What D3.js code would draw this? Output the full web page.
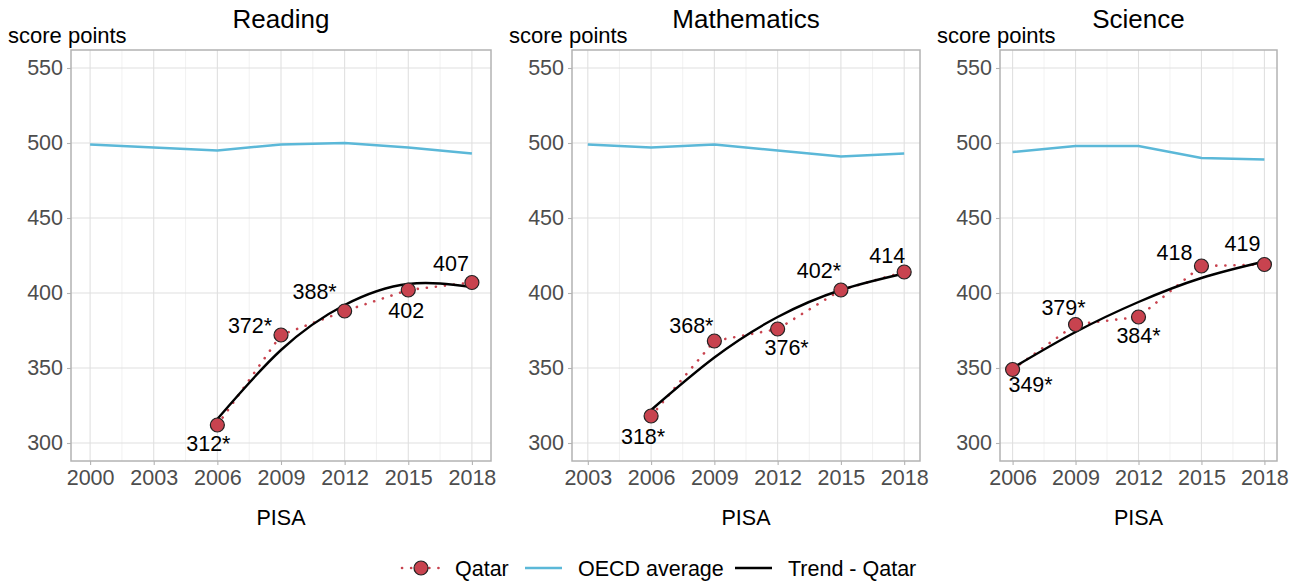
<!DOCTYPE html>
<html>
<head>
<meta charset="utf-8">
<script src="https://cdn.jsdelivr.net/npm/d3@7"></script>
<style>
  body { margin: 0; background: #fff; }
  text { font-family: Arial, "Liberation Sans", sans-serif; }
</style>
</head>
<body>
<script>
// PISA years per subject
var readingYears = [2000, 2003, 2006, 2009, 2012, 2015, 2018];
var mathYears = [2003, 2006, 2009, 2012, 2015, 2018];
var scienceYears = [2006, 2009, 2012, 2015, 2018];
var qatarYears = [2006, 2009, 2012, 2015, 2018];

// OECD average
var readingOecd = [499, 497, 495, 499, 500, 497, 493];
var mathOecd = [499, 497, 499, 495, 491, 493];
var scienceOecd = [494, 498, 498, 490, 489];

// Qatar scores and labels
var readingQatar = [312, 372, 388, 402, 407];
var mathQatar = [318, 368, 376, 402, 414];
var scienceQatar = [349, 379, 384, 418, 419];
var readingLabels = ['312*', '372*', '388*', '402', '407'];
var mathLabels = ['318*', '368*', '376*', '402*', '414'];
var scienceLabels = ['349*', '379*', '384*', '418', '419'];

// Trend - Qatar (at each PISA year)
var readingTrend = [316, 362, 392, 406, 404];
var mathTrend = [322, 357, 384, 402, 413];
var scienceTrend = [350, 374, 394, 410, 421];

var yTicks = [300, 350, 400, 450, 500, 550];

var panels = [
  { title: 'Reading', years: readingYears, oecd: readingOecd, qatar: readingQatar, labels: readingLabels, trend: readingTrend,
    left: 71, right: 491,
    offs: [[-9, 18], [-31, -10], [-30, -20], [-2, 20], [-21, -19]] },
  { title: 'Mathematics', years: mathYears, oecd: mathOecd, qatar: mathQatar, labels: mathLabels, trend: mathTrend,
    left: 572, right: 920,
    offs: [[-8, 20], [-23, -16], [9, 18], [-22, -20], [-17, -17]] },
  { title: 'Science', years: scienceYears, oecd: scienceOecd, qatar: scienceQatar, labels: scienceLabels, trend: scienceTrend,
    left: 1000, right: 1277,
    offs: [[18, 15], [-12, -17], [0, 18], [-27, -14], [-22, -21]] }
];

var W = 1301, H = 583;
var plotTop = 50, plotBottom = 461;
var red = '#c8434f', blue = '#5bb8d8';
var fs = '21.5px';

var svg = d3.select('body').append('svg').attr('width', W).attr('height', H);

var y = d3.scaleLinear().domain([288, 562]).range([plotBottom, plotTop]);

panels.forEach(function(p) {
  var x0 = p.years[0], x1 = p.years[p.years.length - 1];
  var pad = (x1 - x0) * 0.05;
  var x = d3.scaleLinear().domain([x0 - pad, x1 + pad]).range([p.left, p.right]);
  var g = svg.append('g');

  // minor grid
  var minors = [];
  for (var i = 0; i < p.years.length - 1; i++) minors.push((p.years[i] + p.years[i + 1]) / 2);
  g.selectAll('.vminor').data(minors).enter().append('line')
    .attr('x1', function(d) { return x(d); }).attr('x2', function(d) { return x(d); })
    .attr('y1', plotTop).attr('y2', plotBottom)
    .attr('stroke', '#ededed').attr('stroke-width', 0.8);

  // major grid
  g.selectAll('.vmajor').data(p.years).enter().append('line')
    .attr('x1', function(d) { return x(d); }).attr('x2', function(d) { return x(d); })
    .attr('y1', plotTop).attr('y2', plotBottom)
    .attr('stroke', '#e0e0e0').attr('stroke-width', 1.1);
  g.selectAll('.hmajor').data(yTicks).enter().append('line')
    .attr('x1', p.left).attr('x2', p.right)
    .attr('y1', function(d) { return y(d); }).attr('y2', function(d) { return y(d); })
    .attr('stroke', '#e0e0e0').attr('stroke-width', 1.1);

  // axes
  var ax = g.append('g').attr('transform', 'translate(0,' + plotBottom + ')')
    .call(d3.axisBottom(x).tickValues(p.years).tickFormat(d3.format('d')).tickSize(4).tickPadding(5));
  var ay = g.append('g').attr('transform', 'translate(' + p.left + ',0)')
    .call(d3.axisLeft(y).tickValues(yTicks).tickSize(4).tickPadding(4));
  [ax, ay].forEach(function(a) {
    a.select('.domain').remove();
    a.selectAll('line').attr('stroke', '#b3b3b3').attr('stroke-width', 1.1);
    a.selectAll('text').attr('fill', '#4d4d4d').style('font-size', fs)
      .style('font-family', 'Arial, "Liberation Sans", sans-serif');
  });

  // border
  g.append('rect').attr('x', p.left).attr('y', plotTop)
    .attr('width', p.right - p.left).attr('height', plotBottom - plotTop)
    .attr('fill', 'none').attr('stroke', '#b3b3b3').attr('stroke-width', 1.5);

  // OECD line
  g.append('path').datum(p.years.map(function(d, i) { return [d, p.oecd[i]]; }))
    .attr('d', d3.line().x(function(d) { return x(d[0]); }).y(function(d) { return y(d[1]); }))
    .attr('fill', 'none').attr('stroke', blue).attr('stroke-width', 2.5);

  var qpts = qatarYears.map(function(d, i) { return [d, p.qatar[i]]; });
  // Qatar dotted
  g.append('path').datum(qpts)
    .attr('d', d3.line().x(function(d) { return x(d[0]); }).y(function(d) { return y(d[1]); }))
    .attr('fill', 'none').attr('stroke', red).attr('stroke-width', 2.6)
    .attr('stroke-dasharray', '0.1,9').attr('stroke-linecap', 'round');

  // trend
  g.append('path').datum(qatarYears.map(function(d, i) { return [d, p.trend[i]]; }))
    .attr('d', d3.line().curve(d3.curveNatural).x(function(d) { return x(d[0]); }).y(function(d) { return y(d[1]); }))
    .attr('fill', 'none').attr('stroke', '#000').attr('stroke-width', 2.4);

  // dots
  g.selectAll('.dot').data(qpts).enter().append('circle')
    .attr('cx', function(d) { return x(d[0]); })
    .attr('cy', function(d) { return y(d[1]); })
    .attr('r', 7).attr('fill', red).attr('stroke', '#222').attr('stroke-width', 1.2);

  // labels
  g.selectAll('.lab').data(qpts).enter().append('text')
    .attr('x', function(d, i) { return x(d[0]) + p.offs[i][0]; })
    .attr('y', function(d, i) { return y(d[1]) + p.offs[i][1]; })
    .attr('dy', '0.36em').attr('text-anchor', 'middle')
    .style('font-size', fs).attr('fill', '#000')
    .text(function(d, i) { return p.labels[i]; });

  // titles
  g.append('text').attr('x', (p.left + p.right) / 2).attr('y', 28)
    .attr('text-anchor', 'middle').style('font-size', '26px').text(p.title);
  g.append('text').attr('x', p.left - 63).attr('y', 43)
    .style('font-size', '22px').text('score points');
  g.append('text').attr('x', (p.left + p.right) / 2).attr('y', 525)
    .attr('text-anchor', 'middle').style('font-size', fs).text('PISA');
});

// legend
var lg = svg.append('g').attr('transform', 'translate(0,568)');
lg.append('line').attr('x1', 402).attr('x2', 440).attr('y1', 0).attr('y2', 0)
  .attr('stroke', red).attr('stroke-width', 2.6).attr('stroke-dasharray', '0.1,9').attr('stroke-linecap', 'round');
lg.append('circle').attr('cx', 421).attr('cy', 0).attr('r', 7)
  .attr('fill', red).attr('stroke', '#222').attr('stroke-width', 1.2);
lg.append('text').attr('x', 455).attr('y', 0).attr('dy', '0.36em').style('font-size', fs).text('Qatar');
lg.append('line').attr('x1', 525).attr('x2', 562).attr('y1', 0).attr('y2', 0)
  .attr('stroke', blue).attr('stroke-width', 2.5);
lg.append('text').attr('x', 578).attr('y', 0).attr('dy', '0.36em').style('font-size', fs).text('OECD average');
lg.append('line').attr('x1', 735).attr('x2', 772).attr('y1', 0).attr('y2', 0)
  .attr('stroke', '#000').attr('stroke-width', 2.4);
lg.append('text').attr('x', 788).attr('y', 0).attr('dy', '0.36em').style('font-size', fs).text('Trend - Qatar');
</script>
</body>
</html>
